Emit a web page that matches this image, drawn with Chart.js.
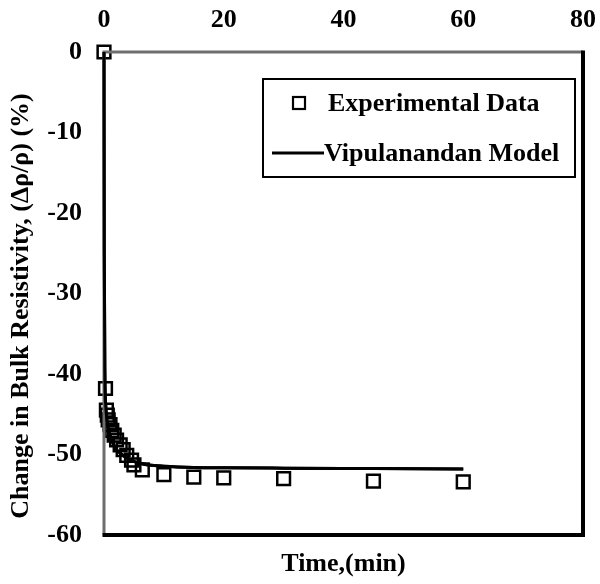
<!DOCTYPE html>
<html>
<head>
<meta charset="utf-8">
<script src="https://cdn.jsdelivr.net/npm/chart.js@4/dist/chart.umd.min.js"></script>
<style>
    html, body { margin: 0; padding: 0; background: #ffffff; }
    #wrap { width: 600px; height: 584px; }
</style>
</head>
<body>
<div id="wrap"><canvas id="chart"></canvas></div>
<script>
    // values
    const expTime = [0, 0.25, 0.4, 0.55, 0.7, 1.0, 1.3, 1.7, 2.1, 2.7, 3.2, 3.8, 4.6, 5.0, 6.4, 10, 15, 20, 30, 45, 60];
    const expChange = [0, -41.8, -44.5, -45.1, -45.7, -46.3, -47.0, -47.6, -48.2, -48.8, -49.4, -50.1, -50.7, -51.3, -51.9, -52.5, -52.8, -52.9, -53.0, -53.3, -53.4];

    const modelTime = [0, 0.05, 0.15, 0.3, 0.5, 1, 2, 3, 4, 5.5, 7.5, 10, 15, 20, 30, 45, 60];
    const modelChange = [0, -25, -40, -44, -45.8, -47.6, -49.3, -50.0, -50.5, -51.0, -51.3, -51.45, -51.6, -51.65, -51.7, -51.75, -51.8];

    const xTicks = [0, 20, 40, 60, 80];
    const yTicks = [0, -10, -20, -30, -40, -50, -60];

    const seriesNames = ["Experimental Data", "Vipulanandan Model"];
    const xTitle = "Time,(min)";
    const yTitle = "Change in Bulk Resistivity, (\u0394\u03c1/\u03c1) (%)";

    const FONT = "'Liberation Serif', 'Times New Roman', serif";

    const toPoints = (xs, ys) => xs.map((x, i) => ({ x: x, y: ys[i] }));

    // frame, legend box and axis titles
    const extras = {
        id: "extras",
        afterDraw: (chart) => {
            const { ctx, chartArea } = chart;
            const { left, right, top, bottom } = chartArea;
            ctx.save();

            // plot frame: grey axes on left/top, black on right/bottom
            ctx.lineWidth = 3;
            ctx.strokeStyle = "#6e6e6e";
            ctx.beginPath();
            ctx.moveTo(left, bottom);
            ctx.lineTo(left, top);
            ctx.lineTo(right, top);
            ctx.stroke();
            ctx.lineWidth = 4;
            ctx.strokeStyle = "#000000";
            ctx.beginPath();
            ctx.moveTo(right, top - 1.5);
            ctx.lineTo(right, bottom);
            ctx.lineTo(left - 1.5, bottom);
            ctx.stroke();

            // redraw model line over the axes
            chart.getDatasetMeta(1).controller.draw();

            // legend
            ctx.lineWidth = 2;
            ctx.strokeStyle = "#000000";
            ctx.fillStyle = "#ffffff";
            ctx.fillRect(263, 79, 312, 98);
            ctx.strokeRect(263, 79, 312, 98);

            ctx.lineWidth = 2.2;
            ctx.strokeRect(293, 97, 12, 12);

            ctx.lineWidth = 3;
            ctx.beginPath();
            ctx.moveTo(272, 153);
            ctx.lineTo(324, 153);
            ctx.stroke();

            ctx.fillStyle = "#000000";
            ctx.font = "bold 26px " + FONT;
            ctx.textBaseline = "middle";
            ctx.textAlign = "left";
            ctx.fillText(seriesNames[0], 328, 104);
            ctx.fillText(seriesNames[1], 324, 154);

            // x axis title below the plot
            ctx.textAlign = "center";
            ctx.fillText(xTitle, (left + right) / 2, 564);

            // y axis title, rotated
            ctx.translate(21, 306);
            ctx.rotate(-Math.PI / 2);
            ctx.fillText(yTitle, 0, 0);
            ctx.restore();
        }
    };

    const ctx = document.getElementById("chart").getContext("2d");

    const chartOptions = {
        type: "scatter",
        data: {
            datasets: [
                {
                    label: seriesNames[0],
                    data: toPoints(expTime, expChange),
                    pointStyle: "rect",
                    pointRadius: 9,
                    pointBorderWidth: 2.5,
                    pointBorderColor: "#000000",
                    pointBackgroundColor: "rgba(255,255,255,0)",
                    showLine: false,
                    clip: false,
                    order: 1
                },
                {
                    label: seriesNames[1],
                    data: toPoints(modelTime, modelChange),
                    showLine: true,
                    borderColor: "#000000",
                    borderWidth: 3,
                    pointRadius: 0,
                    cubicInterpolationMode: "monotone",
                    clip: false,
                    order: 2
                }
            ]
        },
        options: {
            responsive: true,
            maintainAspectRatio: false,
            animation: false,
            layout: {
                padding: { top: 0, right: 17, bottom: 49, left: 0 }
            },
            plugins: {
                legend: { display: false },
                tooltip: { enabled: false }
            },
            scales: {
                x: {
                    type: "linear",
                    position: "top",
                    min: 0,
                    max: 80,
                    afterBuildTicks: (scale) => {
                        scale.ticks = xTicks.map((v) => ({ value: v }));
                    },
                    afterFit: (scale) => {
                        scale.height = 52;
                        scale.paddingLeft = 0;
                        scale.paddingRight = 0;
                    },
                    grid: { display: false, drawTicks: false },
                    border: { display: false },
                    ticks: {
                        color: "#000000",
                        padding: 16,
                        font: { family: FONT, size: 26, weight: "bold" }
                    }
                },
                y: {
                    type: "linear",
                    min: -60,
                    max: 0,
                    afterBuildTicks: (scale) => {
                        scale.ticks = yTicks.map((v) => ({ value: v }));
                    },
                    afterFit: (scale) => {
                        scale.width = 104;
                        scale.paddingTop = 0;
                        scale.paddingBottom = 0;
                    },
                    grid: { display: false, drawTicks: false },
                    border: { display: false },
                    ticks: {
                        color: "#000000",
                        padding: 22,
                        font: { family: FONT, size: 26, weight: "bold" }
                    }
                }
            }
        },
        plugins: [extras]
    };

    new Chart(ctx, chartOptions);
</script>
</body>
</html>
